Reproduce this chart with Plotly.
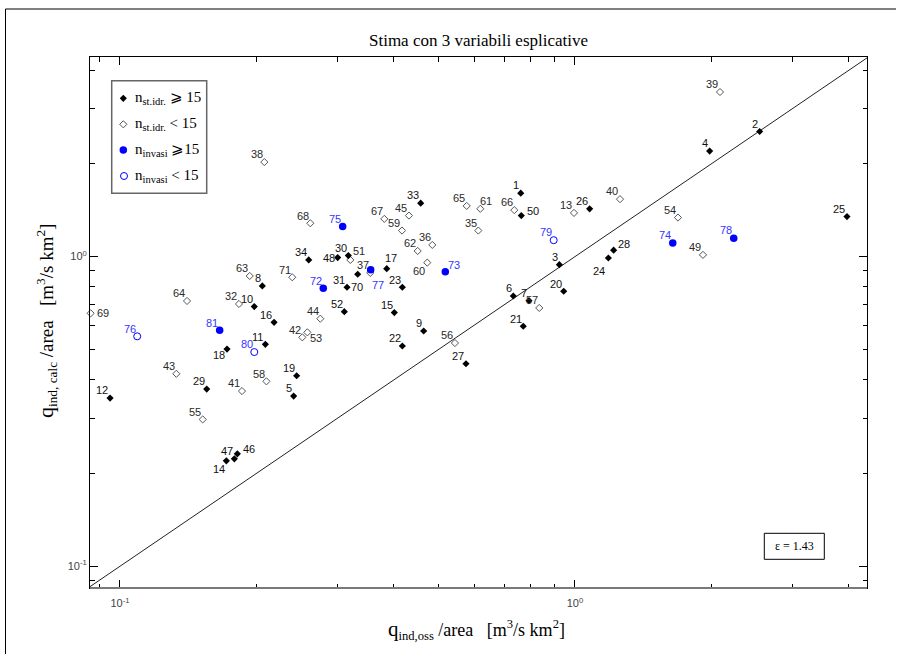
import numpy as np
import plotly.graph_objects as go

# ---------------- data ----------------
# filled diamonds: n_st.idr. >= 15
ids_fd = [1, 2, 3, 4, 5, 6, 7, 8, 9, 10, 11, 12, 14, 15, 16, 17, 18, 19, 20, 21, 22, 23, 24, 25,
          26, 27, 28, 29, 30, 31, 33, 34, 46, 47, 48, 50, 52, 70]
x_fd = [0.760, 2.546, 0.924, 1.977, 0.2408, 0.7318, 0.7924, 0.2055, 0.4650, 0.1973, 0.2087, 0.0951,
        0.1713, 0.4008, 0.2181, 0.3857, 0.1719, 0.2445, 0.9445, 0.7697, 0.4174, 0.4174, 1.184, 3.961,
        1.077, 0.5760, 1.216, 0.1551, 0.3176, 0.3155, 0.4580, 0.2599, 0.1811, 0.1784, 0.3009, 0.7621,
        0.3112, 0.3330]
y_fd = [1.603, 2.536, 0.942, 2.192, 0.3544, 0.7463, 0.7208, 0.8042, 0.5752, 0.6895, 0.5208, 0.3492,
        0.2190, 0.6594, 0.6136, 0.9146, 0.5029, 0.4123, 0.7729, 0.5957, 0.5143, 0.7963, 0.990, 1.347,
        1.427, 0.4508, 1.049, 0.3735, 1.0075, 0.7963, 1.488, 0.9757, 0.2307, 0.2223, 0.9926, 1.357,
        0.6642, 0.8772]

# open diamonds: n_st.idr. < 15
ids_od = [13, 32, 35, 36, 37, 38, 39, 40, 41, 42, 43, 44, 45, 49, 51, 53, 54, 55, 56, 57, 58, 59,
          60, 61, 62, 63, 64, 65, 66, 67, 68, 69, 71]
x_od = [0.995, 0.1826, 0.6131, 0.4858, 0.3549, 0.2076, 2.083, 1.256, 0.1854, 0.2516, 0.1330, 0.2756,
        0.4316, 1.911, 0.3208, 0.2581, 1.684, 0.1520, 0.5447, 0.8346, 0.2098, 0.4167, 0.4735, 0.6193,
        0.4511, 0.1928, 0.1404, 0.5781, 0.7355, 0.3810, 0.2620, 0.0862, 0.2391]
y_od = [1.384, 0.7033, 1.214, 1.091, 0.8858, 2.020, 3.401, 1.533, 0.3680, 0.5487, 0.4184, 0.6303,
        1.357, 1.013, 0.9757, 0.5695, 1.337, 0.2980, 0.5260, 0.6827, 0.3956, 1.214, 0.9563, 1.427,
        1.043, 0.8661, 0.7191, 1.458, 1.413, 1.324, 1.282, 0.6561, 0.8578]

# blue filled circles: n_invasi >= 15
ids_bf = [72, 73, 74, 75, 77, 78, 81]
x_bf = [0.2798, 0.5188, 1.640, 0.3086, 0.3556, 2.233, 0.1656]
y_bf = [0.7903, 0.8944, 1.107, 1.250, 0.9078, 1.147, 0.5781]

# blue open circles: n_invasi < 15
ids_bo = [76, 79, 80]
x_bo = [0.1091, 0.8978, 0.1973]
y_bo = [0.5528, 1.130, 0.4918]

epsilon_text = "ε = 1.43"
title_text = "Stima con 3 variabili esplicative"

# axis ranges (log10)
x_log_range = [-1.0659, 0.6418]
y_log_range = [-1.0702, 0.6447]

# ---------------- layout helpers ----------------
W, H = 902, 654
L, R, T, B = 90, 35, 57, 66
PW, PH = W - L - R, H - T - B


def px2x(px):
    return (px - L) / PW


def py2y(py):
    return (H - B - py) / PH


BLUE = "#0000ff"
BLUE_TXT = "#3636ff"
SANS = "Liberation Sans, Arial, sans-serif"
SERIF = "Liberation Serif, Times New Roman, serif"

fig = go.Figure()

# reference line y = x
xl = [10 ** x_log_range[0], 10 ** x_log_range[1]]
fig.add_trace(go.Scatter(x=xl, y=xl, mode="lines", line=dict(color="#222", width=1),
                         hoverinfo="skip", showlegend=False))

fig.add_trace(go.Scatter(x=x_od, y=y_od, mode="markers", showlegend=False, cliponaxis=False,
                         marker=dict(symbol="diamond-open", size=5.5, color="#555",
                                     line=dict(width=1, color="#555"))))
fig.add_trace(go.Scatter(x=x_fd, y=y_fd, mode="markers", showlegend=False, cliponaxis=False,
                         marker=dict(symbol="diamond", size=5.5, color="#000",
                                     line=dict(width=0))))
fig.add_trace(go.Scatter(x=x_bo, y=y_bo, mode="markers", showlegend=False, cliponaxis=False,
                         marker=dict(symbol="circle-open", size=7, color=BLUE,
                                     line=dict(width=1, color=BLUE))))
fig.add_trace(go.Scatter(x=x_bf, y=y_bf, mode="markers", showlegend=False, cliponaxis=False,
                         marker=dict(symbol="circle", size=7.5, color=BLUE, line=dict(width=0))))

# label offsets (screen px: dx right, dy down) for labels not placed upper-left
label_offsets = {48: (-9, 0), 51: (8.7, -9), 61: (5.7, -8), 50: (11.4, -4.4), 28: (10.3, -6.3),
                 24: (-9.3, 13.3), 70: (-1, 13), 77: (7, 15.3), 17: (4, -10.4), 60: (-8, 8),
                 73: (9, -7), 53: (8.7, 5.4), 69: (12.7, 0), 18: (-7.7, 6.3), 14: (-7.6, 8),
                 46: (12, -4.4)}

annotations = []


def add_labels(ids, xs, ys, color):
    for i, xv, yv in zip(ids, xs, ys):
        s = str(i)
        if i in label_offsets:
            dx, dy = label_offsets[i]
        else:
            dx, dy = -(len(s) * 6.1 / 2 + 1.5), -7.7
        annotations.append(dict(x=np.log10(xv), y=np.log10(yv), xref="x", yref="y", text=s,
                                showarrow=False, xanchor="center", yanchor="middle",
                                xshift=dx, yshift=-dy, borderpad=0,
                                font=dict(family=SANS, size=11, color=color)))


add_labels(ids_fd, x_fd, y_fd, "#111")
add_labels(ids_od, x_od, y_od, "#2a2a2a")
add_labels(ids_bf, x_bf, y_bf, BLUE_TXT)
add_labels(ids_bo, x_bo, y_bo, BLUE_TXT)

# title
annotations.append(dict(x=px2x(478), y=py2y(40), xref="paper", yref="paper", text=title_text,
                        showarrow=False, xanchor="center", yanchor="middle",
                        font=dict(family=SERIF, size=17, color="#000")))
# axis titles
annotations.append(dict(x=px2x(476), y=py2y(630), xref="paper", yref="paper",
                        text="<span style='font-size:21px'>q</span><sub>ind,oss</sub> /area\u00a0\u00a0\u00a0[m<sup>3</sup>/s km<sup>2</sup>]",
                        showarrow=False, xanchor="center", yanchor="middle",
                        font=dict(family=SERIF, size=18, color="#000")))
annotations.append(dict(x=px2x(46), y=py2y(321), xref="paper", yref="paper", textangle=-90,
                        text="<span style='font-size:22px'>q</span><sub>ind, calc</sub> /area\u00a0\u00a0\u00a0[m<sup>3</sup>/s km<sup>2</sup>]",
                        showarrow=False, xanchor="center", yanchor="middle",
                        font=dict(family=SERIF, size=19, color="#000")))
# epsilon box text
annotations.append(dict(x=px2x(794.3), y=py2y(546.3), xref="paper", yref="paper", text=epsilon_text,
                        showarrow=False, xanchor="center", yanchor="middle",
                        font=dict(family=SERIF, size=12, color="#000")))

# legend
leg_rows = [98.3, 124.3, 150.0, 176.0]
leg_texts = ["n<sub>st.idr.</sub> ⩾ 15", "n<sub>st.idr.</sub> < 15",
             "n<sub>invasi</sub> ⩾15", "n<sub>invasi</sub> < 15"]
for yy, tt in zip(leg_rows, leg_texts):
    annotations.append(dict(x=px2x(133), y=py2y(yy), xref="paper", yref="paper", text=tt,
                            showarrow=False, xanchor="left", yanchor="middle",
                            font=dict(family=SERIF, size=15, color="#000")))

# legend symbols on a pixel-based overlay axis
fig.add_trace(go.Scatter(x=[123.3], y=[leg_rows[0]], xaxis="x2", yaxis="y2", mode="markers",
                         showlegend=False, marker=dict(symbol="diamond", size=5.5, color="#000")))
fig.add_trace(go.Scatter(x=[123.3], y=[leg_rows[1]], xaxis="x2", yaxis="y2", mode="markers",
                         showlegend=False, marker=dict(symbol="diamond-open", size=5.5, color="#555",
                                                       line=dict(width=1, color="#555"))))
fig.add_trace(go.Scatter(x=[123.3], y=[leg_rows[2]], xaxis="x2", yaxis="y2", mode="markers",
                         showlegend=False, marker=dict(symbol="circle", size=7.5, color=BLUE)))
fig.add_trace(go.Scatter(x=[124], y=[leg_rows[3]], xaxis="x2", yaxis="y2", mode="markers",
                         showlegend=False, marker=dict(symbol="circle-open", size=7, color=BLUE,
                                                       line=dict(width=1, color=BLUE))))

shapes = [
    # legend box
    dict(type="rect", xref="paper", yref="paper", x0=px2x(111.7), x1=px2x(206.7),
         y0=py2y(193.3), y1=py2y(80.7), line=dict(color="#666", width=1.5), fillcolor="rgba(0,0,0,0)"),
    # epsilon box
    dict(type="rect", xref="paper", yref="paper", x0=px2x(764.3), x1=px2x(824.3),
         y0=py2y(559.3), y1=py2y(533.3), line=dict(color="#000", width=1), fillcolor="rgba(0,0,0,0)"),
    # gray bottom axis line
    dict(type="line", xref="paper", yref="paper", x0=0, x1=1, y0=0, y1=0,
         line=dict(color="#7a7a7a", width=2)),
    # outer frame (left + top)
    dict(type="line", xref="paper", yref="paper", x0=px2x(5.5), x1=px2x(5.5), y0=py2y(654), y1=py2y(9),
         line=dict(color="#000", width=1)),
    dict(type="line", xref="paper", yref="paper", x0=px2x(5.5), x1=px2x(896), y0=py2y(9), y1=py2y(9),
         line=dict(color="#000", width=1)),
]

minor_x = [0.09, 0.2, 0.3, 0.4, 0.5, 0.6, 0.7, 0.8, 0.9, 2, 3, 4]
minor_y = [0.09, 0.2, 0.3, 0.4, 0.5, 0.6, 0.7, 0.8, 0.9, 2, 3, 4]

axis_common = dict(type="log", showgrid=False, zeroline=False, showline=True, linecolor="#000",
                   linewidth=1, mirror="ticks", ticks="inside", ticklen=8, tickwidth=1,
                   tickcolor="#000", tickfont=dict(family=SANS, size=11, color="#444"))

fig.update_layout(
    width=W, height=H, margin=dict(l=L, r=R, t=T, b=B),
    paper_bgcolor="white", plot_bgcolor="white", showlegend=False,
    xaxis=dict(range=x_log_range, tickvals=[0.1, 1], ticktext=["10<sup>-1</sup>", "10<sup>0</sup>"],
               ticklabelstandoff=5,
               minor=dict(tickvals=minor_x, ticks="inside", ticklen=4.5, tickcolor="#000", showgrid=False),
               **axis_common),
    yaxis=dict(range=y_log_range, tickvals=[0.1, 1], ticktext=["10<sup>-1</sup>", "10<sup>0</sup>"],
               minor=dict(tickvals=minor_y, ticks="inside", ticklen=4.5, tickcolor="#000", showgrid=False),
               **axis_common),
    xaxis2=dict(range=[L, W - R], overlaying="x", anchor="y2", visible=False, fixedrange=True),
    yaxis2=dict(range=[H - B, T], overlaying="y", anchor="x2", visible=False, fixedrange=True),
    annotations=annotations, shapes=shapes,
)

fig.write_html("out.html", config={"displayModeBar": False},
               post_script="document.body.style.margin='0';document.body.style.overflow='hidden';")
